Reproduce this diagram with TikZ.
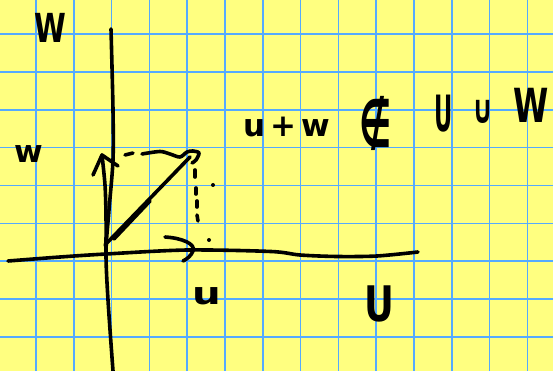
\documentclass[tikz,border=0pt]{standalone}
\usepackage{graphicx}
\usepackage{fontspec}
\setmainfont{DejaVu Sans}
\definecolor{paper}{RGB}{255,255,128}
\definecolor{gridblue}{RGB}{85,170,255}
\begin{document}
\begin{tikzpicture}[x=1pt,y=-1pt,
  ink/.style={line width=3.6pt, line cap=round, line join=round},
  gridline/.style={gridblue, line width=1.6pt},
  lbl/.style={inner sep=0pt, anchor=center, font=\bfseries}]
\fill[paper] (0,0) rectangle (553,371);
\useasboundingbox (0,0) rectangle (553,371);
\foreach \k in {0,...,13} \draw[gridline] ({36+37.8*\k},0) -- ({36+37.8*\k},371);
\foreach \k in {0,...,8} \draw[gridline] (0,{34.3+37.8*\k}) -- (553,{34.3+37.8*\k});

% key points
\coordinate (O) at (106,250);
\coordinate (utip) at (193,251);
\coordinate (wtip) at (102,155);
\coordinate (uwtip) at (193,151);
\coordinate (Wtop) at (111,29);
\coordinate (Wbot) at (113,371);
\coordinate (Uleft) at (8,261);
\coordinate (Uright) at (418,252);

% axes
\draw[ink] plot[smooth] coordinates {(Wtop) (113,110) (113,160) (109,210) (106,252) (108,300) (Wbot)};
\draw[ink] plot[smooth] coordinates {(Uleft) (60,257) (106,254) (187,250) (271,251.5) (300,255) (337,256.5) (377,256) (Uright)};

% vector u arrowhead
\draw[ink] (165,237) .. controls (182,238) and (196,244) .. (utip) .. controls (191,256) and (187,259) .. (183,261);

% vector w
\draw[ink] plot[smooth] coordinates {(O) (106,215) (105,185) (wtip)};
\draw[ink] (93,175) -- (wtip) -- (118,166);

% vector u+w
\draw[ink] (105,245) -- (190,157);
\draw[ink] (114,239) -- (150,201);

% dashed projection from w
\draw[ink] (125,155) -- (133,153);
\draw[ink] plot[smooth] coordinates {(142,154) (160,151.5) (170,154) (180,157) (187,152) (uwtip) (199,153) (196,160) (192,163)};

% dotted projection down to u
\draw[ink] (195,170) -- (195,177);
\draw[ink] (196,188) -- (196,194);
\draw[ink] (197,201) -- (197,207);
\draw[ink] (197,215) -- (198,221);
\fill (213,185) circle (2pt);
\fill (209,240) circle (2pt);

% labels
\node[lbl] (lW) at (50.5,28) {\fontsize{40}{44}\selectfont\scalebox{0.72}[1]{W}};
\node[lbl] (lw) at (29,154) {\fontsize{31}{36}\selectfont w};
\node[lbl] (luw) at (287,127) {\fontsize{31}{36}\selectfont u\hspace{5pt}+\hspace{5pt}w};
\node[lbl] (lnotin) at (376,123.5) {\fontsize{60}{64}\selectfont\scalebox{0.6}[1.1]{∉}};
\node[lbl] (lU1) at (443.5,114) {\fontsize{50}{56}\selectfont\scalebox{0.45}[1]{U}};
\node[lbl] (lcup) at (483.5,111.5) {\fontsize{40}{44}\selectfont\scalebox{0.65}[1]{∪}};
\node[lbl] (lW2) at (531,105) {\fontsize{47}{52}\selectfont\scalebox{0.68}[1]{W}};
\node[lbl] (lu) at (207,296) {\fontsize{31}{36}\selectfont\scalebox{1.3}[1]{u}};
\node[lbl] (lU2) at (379,303.5) {\fontsize{49}{54}\selectfont\scalebox{0.75}[1]{U}};
\end{tikzpicture}
\end{document}
